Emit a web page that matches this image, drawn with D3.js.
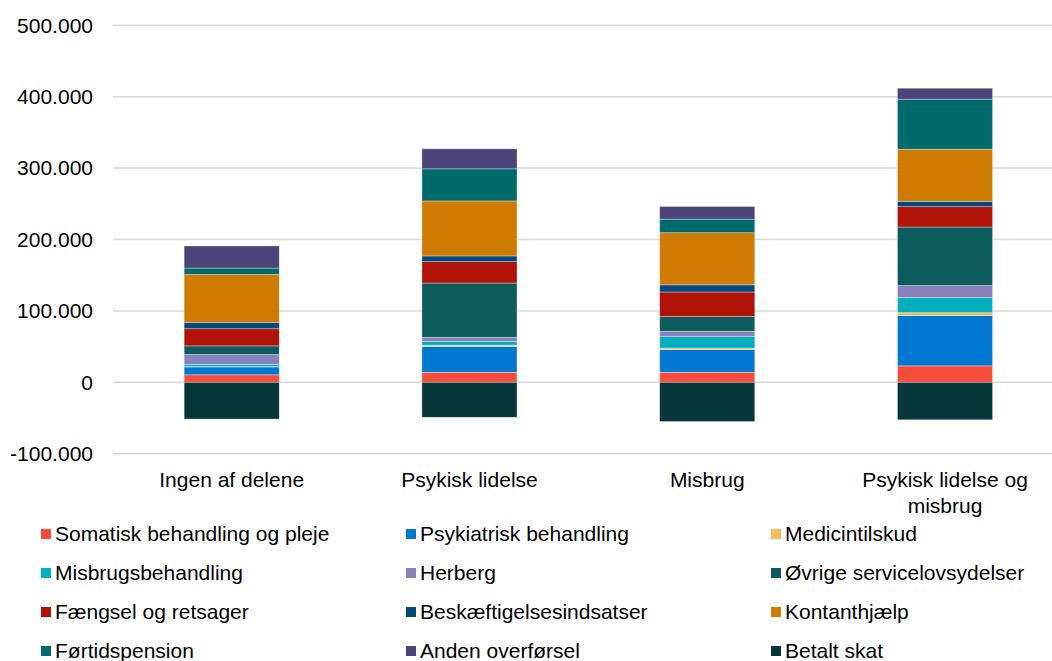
<!DOCTYPE html>
<html>
<head>
<meta charset="utf-8">
<script src="https://cdn.jsdelivr.net/npm/d3@7"></script>
<style>
  body { margin: 0; background: #fff; }
  text { font-family: "Liberation Sans", Arial, sans-serif; fill: #000; }
</style>
</head>
<body>
<div id="chart"></div>
<script>
// categories on the x axis
var categories = ['Ingen af delene', 'Psykisk lidelse', 'Misbrug', 'Psykisk lidelse og misbrug'];

// series, bottom to top
var series = [
  'Somatisk behandling og pleje', 'Psykiatrisk behandling', 'Medicintilskud',
  'Misbrugsbehandling', 'Herberg', 'Øvrige servicelovsydelser',
  'Fængsel og retsager', 'Beskæftigelsesindsatser', 'Kontanthjælp',
  'Førtidspension', 'Anden overførsel', 'Betalt skat'
];

var somatisk   = [10500, 14000, 14000, 23000];
var psykiatri  = [11000, 36000, 32000, 70500];
var medicin    = [500, 2000, 2000, 4000];
var misbrugBeh = [3000, 5000, 16000, 21000];
var herberg    = [14000, 6000, 7500, 17000];
var oevrige    = [12000, 76000, 20500, 82000];
var faengsel   = [24000, 30000, 34500, 28500];
var beskaeft   = [9000, 8000, 10000, 7500];
var kontant    = [67000, 77000, 73000, 73000];
var foertid    = [9000, 45000, 19000, 70000];
var anden      = [31000, 28000, 17700, 15400];
var skat       = [-51500, -49000, -55000, -52500];

var yTicks = [-100000, 0, 100000, 200000, 300000, 400000, 500000];

var colors = ['#F84B3A', '#0078D2', '#FBBA5A', '#00AFBB', '#8881BD', '#0C5C5E',
              '#B01207', '#00497E', '#CF7A00', '#006A6D', '#4A4479', '#073739'];

var values = [somatisk, psykiatri, medicin, misbrugBeh, herberg, oevrige,
              faengsel, beskaeft, kontant, foertid, anden, skat];

var width = 1052, height = 661;

var rows = categories.map(function(c, i){
  var r = {cat: c};
  series.forEach(function(s, j){ r[s] = values[j][i]; });
  return r;
});

var stacked = d3.stack().keys(series).offset(d3.stackOffsetDiverging)(rows);

var x = d3.scaleBand().domain(categories).range([112.8, 1063.9])
    .paddingInner(0.6).paddingOuter(0.3);
var y = d3.scaleLinear().domain([-100000, 500000]).range([453.7, 25.3]);
var color = d3.scaleOrdinal().domain(series).range(colors);

// danish style: dot as thousands separator, plain hyphen minus
var fmt = d3.formatLocale({decimal: ',', thousands: '.', grouping: [3], currency: ['', ' kr'], minus: '-'}).format(',');

var svg = d3.select('#chart').append('svg').attr('width', width).attr('height', height);

// gridlines
svg.append('g').selectAll('line')
  .data(yTicks).enter().append('line')
  .attr('x1', 113).attr('x2', width)
  .attr('y1', function(d){ return y(d); }).attr('y2', function(d){ return y(d); })
  .attr('stroke', '#d9d9d9').attr('stroke-width', 1.5);

// y axis labels
svg.append('g').selectAll('text')
  .data(yTicks).enter().append('text')
  .attr('x', 93).attr('y', function(d){ return y(d); })
  .attr('dy', '0.35em').attr('text-anchor', 'end')
  .style('font-size', '21px')
  .text(fmt);

// bars
svg.append('g').selectAll('g')
  .data(stacked).enter().append('g')
  .attr('fill', function(d){ return color(d.key); })
  .selectAll('rect')
  .data(function(d){ return d; })
  .enter().append('rect')
  .attr('x', function(d){ return x(d.data.cat); })
  .attr('width', x.bandwidth())
  .attr('y', function(d){ return y(Math.max(d[0], d[1])); })
  .attr('height', function(d){ return Math.abs(y(d[0]) - y(d[1])); })
  .attr('stroke', '#fff').attr('stroke-opacity', 0.45).attr('stroke-width', 0.75);

// category labels (wrapped)
var catLines = {'Psykisk lidelse og misbrug': ['Psykisk lidelse og', 'misbrug']};
var catG = svg.append('g');
categories.forEach(function(c){
  var lines = catLines[c] || [c];
  var t = catG.append('text')
    .attr('x', x(c) + x.bandwidth()/2).attr('y', 486.5)
    .attr('text-anchor', 'middle').style('font-size', '21px');
  lines.forEach(function(l, i){
    t.append('tspan').attr('x', x(c) + x.bandwidth()/2).attr('dy', i ? 26 : 0).text(l);
  });
});

// legend, three columns
var legCols = [41, 406, 771], legRows = [534, 573, 612, 651];
var leg = svg.append('g').selectAll('g')
  .data(series).enter().append('g')
  .attr('transform', function(d, i){
    return 'translate(' + legCols[i % 3] + ',' + legRows[Math.floor(i / 3)] + ')';
  });
leg.append('rect').attr('x', 0).attr('y', -5).attr('width', 10).attr('height', 10)
  .attr('fill', function(d){ return color(d); });
leg.append('text').attr('x', 14).attr('dy', '0.35em')
  .style('font-size', '21px')
  .text(function(d){ return d; });
</script>
</body>
</html>
